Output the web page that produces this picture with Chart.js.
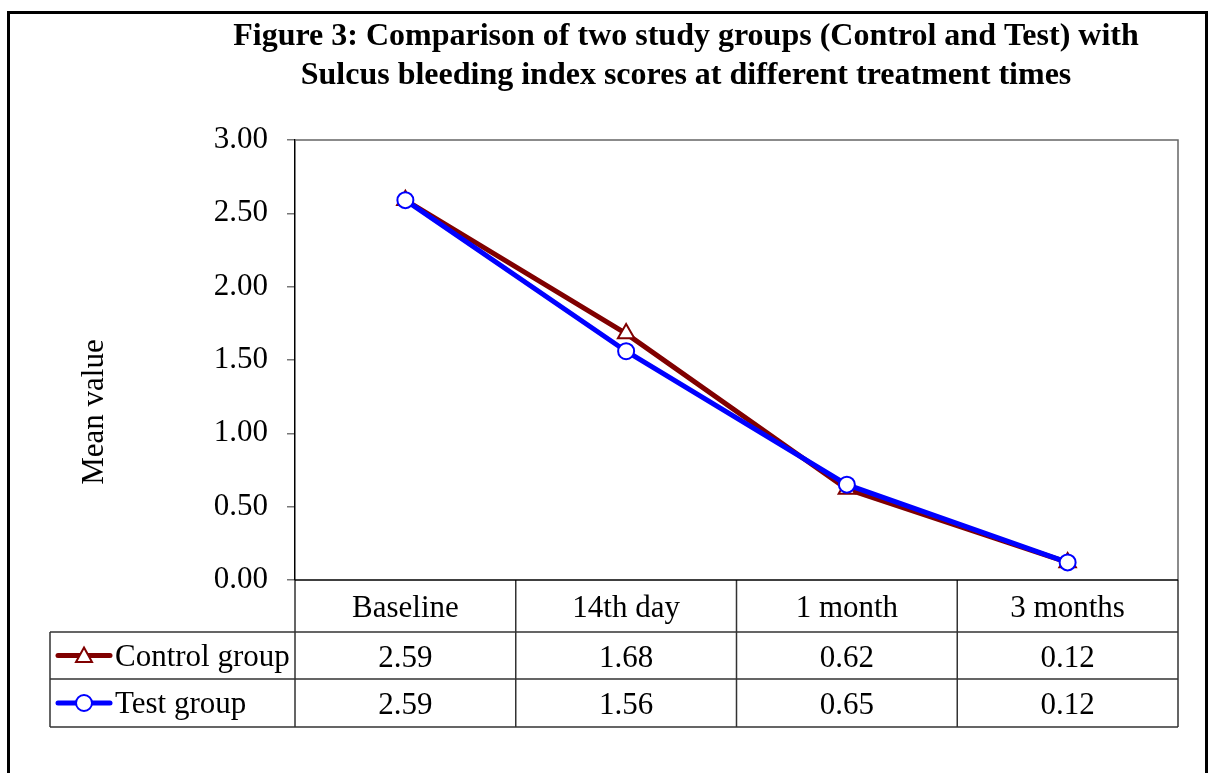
<!DOCTYPE html>
<html>
<head>
<meta charset="utf-8">
<script src="https://cdn.jsdelivr.net/npm/chart.js@4.4.1/dist/chart.umd.min.js"></script>
<style>
  body { margin: 0; background: #fff; }
</style>
</head>
<body>
<canvas id="chart" width="1211" height="773"></canvas>
<script>
const timePoints = ["Baseline", "14th day", "1 month", "3 months"];
const controlGroup = [2.59, 1.68, 0.62, 0.12];
const testGroup = [2.59, 1.56, 0.65, 0.12];
const titleLines = [
    "Figure 3: Comparison of two study groups (Control and Test) with",
    "Sulcus bleeding index scores at different treatment times",
];

const SERIF = "'Liberation Serif', 'Times New Roman', serif";
const FONT_SIZE = 31;
const RED = "#800000";
const BLUE = "#0000ff";

// marker drawn in the table's legend column
function drawKey(ctx, x, y, color, style) {
    ctx.save();
    ctx.strokeStyle = color;
    ctx.lineWidth = 5;
    ctx.lineCap = "round";
    ctx.beginPath();
    ctx.moveTo(x - 26, y);
    ctx.lineTo(x + 26, y);
    ctx.stroke();
    ctx.fillStyle = "#fff";
    ctx.lineWidth = 2;
    ctx.beginPath();
    if (style === "triangle") {
        ctx.moveTo(x, y - 8);
        ctx.lineTo(x + 8, y + 6.5);
        ctx.lineTo(x - 8, y + 6.5);
        ctx.closePath();
    } else {
        ctx.arc(x, y, 8, 0, Math.PI * 2);
    }
    ctx.fill();
    ctx.stroke();
    ctx.restore();
}

const tablePlugin = {
    id: "dataTable",
    afterDraw(chart) {
        const ctx = chart.ctx;
        const area = chart.chartArea;
        const x = chart.scales.x;
        const colW = (area.right - area.left) / timePoints.length;
        const rowTops = [area.bottom, 632, 679, 727];
        const tableLeft = 50;

        ctx.save();

        // outer frame
        ctx.strokeStyle = "#000";
        ctx.lineWidth = 3;
        ctx.strokeRect(8.5, 12.5, 1198, 800);

        // title
        ctx.fillStyle = "#000";
        ctx.font = "bold 32px " + SERIF;
        ctx.textAlign = "center";
        ctx.textBaseline = "middle";
        ctx.fillText(titleLines[0], 686, 37);
        ctx.fillText(titleLines[1], 686, 76);

        // y axis title
        ctx.save();
        ctx.translate(95, 412);
        ctx.rotate(-Math.PI / 2);
        ctx.font = FONT_SIZE + "px " + SERIF;
        ctx.fillText("Mean value", 0, 0);
        ctx.restore();

        // plot frame top and right
        ctx.strokeStyle = "#666";
        ctx.lineWidth = 1.5;
        ctx.beginPath();
        ctx.moveTo(area.left, area.top);
        ctx.lineTo(area.right, area.top);
        ctx.lineTo(area.right, area.bottom);
        ctx.stroke();

        // table grid
        ctx.strokeStyle = "#333";
        ctx.lineWidth = 1.5;
        ctx.beginPath();
        for (let r = 1; r < rowTops.length; r++) {
            ctx.moveTo(tableLeft, rowTops[r]);
            ctx.lineTo(area.right, rowTops[r]);
        }
        ctx.moveTo(tableLeft, rowTops[1]);
        ctx.lineTo(tableLeft, rowTops[3]);
        for (let i = 0; i <= timePoints.length; i++) {
            const cx = area.left + i * colW;
            ctx.moveTo(cx, rowTops[0]);
            ctx.lineTo(cx, rowTops[3]);
        }
        ctx.stroke();

        // category axis line
        ctx.strokeStyle = "#000";
        ctx.beginPath();
        ctx.moveTo(area.left, area.bottom);
        ctx.lineTo(area.right, area.bottom);
        ctx.stroke();

        // cells
        ctx.fillStyle = "#000";
        ctx.font = FONT_SIZE + "px " + SERIF;
        ctx.textAlign = "center";
        const rows = [controlGroup, testGroup];
        timePoints.forEach((label, i) => {
            const cx = x.getPixelForValue(i);
            ctx.fillText(label, cx, (rowTops[0] + rowTops[1]) / 2 + 3);
            rows.forEach((vals, r) => {
                ctx.fillText(vals[i].toFixed(2), cx, (rowTops[r + 1] + rowTops[r + 2]) / 2 + 3);
            });
        });

        // series labels with keys
        const ds = chart.data.datasets;
        ctx.textAlign = "left";
        ds.forEach((d, r) => {
            const cy = (rowTops[r + 1] + rowTops[r + 2]) / 2;
            drawKey(ctx, 84, cy, d.borderColor, d.pointStyle);
            ctx.fillStyle = "#000";
            ctx.fillText(d.label, 115, cy + 2);
        });

        ctx.restore();
    },
};

const config = {
    type: "line",
    data: {
        labels: timePoints,
        datasets: [
            {
                label: "Control group",
                data: controlGroup,
                borderColor: RED,
                backgroundColor: "#fff",
                borderWidth: 5,
                pointStyle: "triangle",
                pointRadius: 9.5,
                pointBorderWidth: 2,
                pointBackgroundColor: "#fff",
                pointBorderColor: RED,
                order: 1,
            },
            {
                label: "Test group",
                data: testGroup,
                borderColor: BLUE,
                backgroundColor: "#fff",
                borderWidth: 5,
                pointStyle: "circle",
                pointRadius: 8,
                pointBorderWidth: 2,
                pointBackgroundColor: "#fff",
                pointBorderColor: BLUE,
                order: 0,
            },
        ],
    },
    options: {
        responsive: false,
        animation: false,
        layout: {
            padding: { left: 50, top: 140, right: 33, bottom: 193 },
        },
        plugins: {
            legend: { display: false },
            title: { display: false },
            tooltip: { enabled: false },
        },
        scales: {
            x: {
                display: false,
                offset: true,
            },
            y: {
                min: 0,
                max: 3,
                afterFit(scale) {
                    scale.width = 245;
                },
                ticks: {
                    stepSize: 0.5,
                    color: "#000",
                    padding: 19,
                    font: { family: SERIF, size: FONT_SIZE },
                    callback: (v) => v.toFixed(2),
                },
                grid: {
                    drawOnChartArea: false,
                    drawTicks: true,
                    tickLength: 8,
                    color: "#777",
                    lineWidth: 1.5,
                },
                border: {
                    display: true,
                    color: "#000",
                    width: 1.5,
                },
            },
        },
    },
    plugins: [tablePlugin],
};

const chart = new Chart(document.getElementById("chart"), config);
</script>
</body>
</html>
